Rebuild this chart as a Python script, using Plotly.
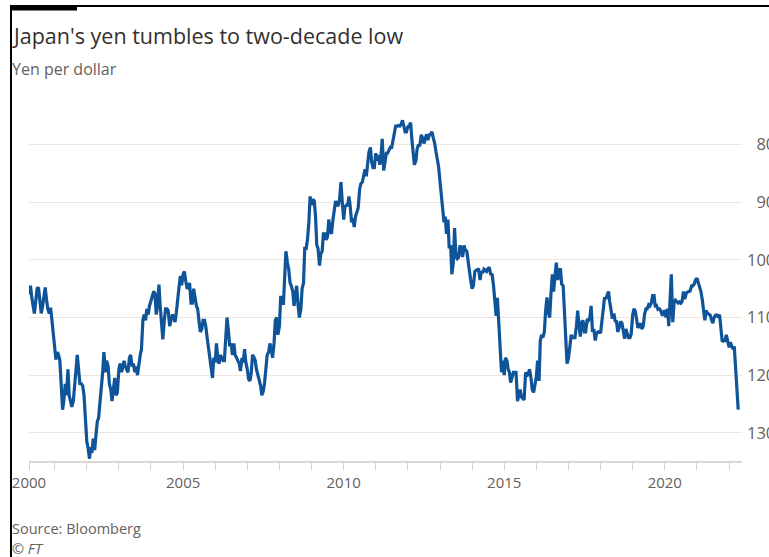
import pandas as pd
import plotly.graph_objects as go

title_text = "Japan's yen tumbles to two-decade low"
subtitle_text = "Yen per dollar"
source_text = "Source: Bloomberg"
credit_text = "© FT"

# Semi-monthly readings (1st and 15th of each month), yen per dollar
yen_2000 = [106.0, 104.5, 106.5, 108.5, 109.3, 107.0, 105.0, 104.8, 107.5, 109.3,
            108.2, 106.0, 104.8, 107.0, 108.5, 109.3, 108.3, 110.5, 112.5]
yen_2001 = [114.5, 117.3, 116.0, 116.5, 117.5, 121.0, 126.0, 124.5, 121.5, 123.5, 119.0, 123.5,
            124.5, 125.5, 124.5, 121.0, 119.0, 116.5, 119.5, 121.5, 121.5, 121.8, 123.5, 127.0]
yen_2002 = [131.5, 132.5, 134.5, 132.5, 133.5, 131.0, 133.0, 130.5, 128.0, 127.5, 124.5, 123.5,
            119.5, 116.0, 119.5, 117.5, 118.5, 121.5, 122.5, 124.5, 122.0, 120.5, 123.5, 123.0]
yen_2003 = [119.0, 118.0, 119.5, 118.5, 117.5, 118.5, 119.0, 119.5, 117.0, 116.5, 118.5, 118.0,
            119.5, 118.5, 120.0, 118.0, 116.5, 115.5, 110.5, 109.5, 110.5, 108.5, 109.5, 108.0]
yen_2004 = [107.0, 106.5, 105.5, 105.8, 109.5, 108.0, 104.3, 108.0, 110.5, 113.8, 110.5, 108.5,
            108.5, 108.8, 111.5, 110.3, 109.5, 109.8, 110.8, 109.2, 106.0, 104.8, 102.8, 104.4]
yen_2005 = [102.5, 102.0, 103.8, 105.0, 104.8, 104.0, 107.5, 107.5, 105.0, 106.5, 108.0, 108.5,
            110.5, 112.5, 112.0, 110.5, 110.5, 111.5, 113.5, 115.0, 116.5, 118.5, 120.5, 117.0]
yen_2006 = [117.8, 114.5, 117.5, 118.0, 116.5, 117.0, 117.5, 117.5, 113.0, 110.0, 112.5, 115.0,
            114.5, 116.5, 114.5, 116.5, 117.0, 117.5, 118.0, 119.3, 117.0, 117.8, 115.5, 117.8]
yen_2007 = [119.0, 120.7, 121.0, 119.5, 116.5, 116.8, 117.5, 119.0, 119.8, 120.5, 121.8, 123.5,
            122.8, 121.5, 118.5, 116.5, 116.0, 114.5, 115.5, 117.0, 114.5, 110.5, 110.0, 113.0]
yen_2008 = [111.5, 106.5, 106.5, 107.8, 103.0, 98.5, 100.5, 101.5, 104.0, 104.5, 105.5, 108.0,
            106.0, 104.5, 108.0, 110.0, 108.5, 105.0, 104.0, 98.0, 98.0, 96.5, 93.5, 89.0]
yen_2009 = [90.5, 89.5, 89.8, 92.5, 97.5, 98.0, 101.0, 99.0, 98.5, 95.5, 95.5, 96.5,
            96.0, 93.0, 95.0, 95.5, 93.0, 91.0, 89.8, 90.5, 90.5, 89.5, 86.5, 89.8]
yen_2010 = [93.0, 90.8, 90.5, 90.5, 89.0, 90.5, 93.5, 92.8, 94.3, 92.5, 91.5, 91.0,
            87.8, 86.8, 86.5, 85.5, 84.3, 85.5, 83.3, 81.3, 80.5, 83.0, 84.0, 84.0]
yen_2011 = [81.5, 82.8, 81.8, 83.5, 82.0, 79.0, 84.5, 83.3, 81.5, 81.5, 81.0, 80.5,
            80.5, 79.2, 77.5, 76.8, 76.8, 76.7, 76.8, 76.5, 75.8, 77.1, 77.8, 77.8]
yen_2012 = [76.9, 76.8, 76.2, 79.0, 81.2, 83.5, 82.8, 80.8, 80.0, 80.3, 78.3, 78.8,
            79.8, 79.0, 78.2, 79.2, 78.3, 78.2, 77.8, 78.8, 79.8, 81.2, 82.3, 83.8]
yen_2013 = [86.5, 88.8, 91.5, 93.5, 92.5, 95.5, 93.0, 98.0, 97.5, 102.5, 100.5, 94.5,
            99.5, 99.8, 99.5, 97.5, 98.0, 99.5, 97.5, 98.3, 98.5, 100.2, 102.5, 103.5]
yen_2014 = [105.0, 104.5, 102.0, 101.8, 101.8, 101.5, 103.5, 102.0, 102.3, 101.6, 101.8, 102.0,
            101.5, 101.3, 102.6, 102.4, 104.5, 107.2, 109.7, 106.6, 112.0, 116.5, 119.5, 117.5]
yen_2015 = [120.0, 117.0, 117.5, 119.0, 119.5, 121.3, 120.0, 119.5, 119.5, 119.5, 124.5, 123.4,
            122.5, 123.8, 124.0, 124.3, 119.5, 120.2, 119.8, 119.0, 120.5, 122.5, 123.0, 121.5]
yen_2016 = [120.3, 117.5, 121.0, 114.0, 113.0, 113.5, 112.5, 109.0, 106.5, 109.0, 110.0, 106.0,
            102.5, 105.5, 102.0, 100.5, 103.5, 102.0, 101.5, 104.2, 104.5, 109.5, 114.0, 118.0]
yen_2017 = [117.0, 114.5, 113.0, 113.5, 113.5, 113.5, 111.5, 108.8, 111.5, 113.3, 110.8, 110.5,
            112.5, 112.5, 110.3, 110.5, 110.0, 108.0, 112.5, 112.0, 114.0, 112.8, 112.5, 112.5]
yen_2018 = [112.7, 110.8, 109.2, 106.5, 106.8, 106.3, 105.5, 107.3, 109.3, 110.2, 109.3, 110.6,
            110.7, 112.5, 111.7, 110.7, 111.0, 112.0, 113.7, 112.0, 112.8, 113.5, 113.5, 112.8]
yen_2019 = [109.5, 108.5, 109.0, 110.5, 111.8, 111.5, 111.0, 112.0, 111.5, 109.5, 108.5, 108.5,
            107.8, 108.0, 107.5, 106.2, 106.2, 108.2, 108.0, 108.6, 108.5, 108.8, 109.5, 109.5]
yen_2020 = [108.7, 110.0, 108.5, 111.5, 107.8, 102.5, 110.8, 107.5, 107.0, 107.2, 107.5, 107.3,
            107.5, 107.2, 105.5, 106.8, 105.8, 105.6, 105.5, 105.4, 104.5, 104.5, 104.2, 103.5]
yen_2021 = [103.2, 103.8, 104.8, 105.5, 106.8, 109.0, 110.5, 108.8, 109.3, 109.4, 109.6, 110.4,
            111.0, 110.0, 109.6, 109.6, 110.0, 109.5, 111.5, 114.2, 114.0, 114.0, 113.0, 113.8]
yen_2022 = [115.2, 114.3, 115.0, 115.5, 115.0, 118.5, 122.8, 126.0]

yen = (yen_2000 + yen_2001 + yen_2002 + yen_2003 + yen_2004 + yen_2005 + yen_2006
       + yen_2007 + yen_2008 + yen_2009 + yen_2010 + yen_2011 + yen_2012 + yen_2013
       + yen_2014 + yen_2015 + yen_2016 + yen_2017 + yen_2018 + yen_2019 + yen_2020
       + yen_2021 + yen_2022)
dates = pd.date_range("2000-03-15", "2022-04-15", freq="SMS")
assert len(dates) == len(yen), (len(dates), len(yen))

x_range = ["2000-03-15", "2022-05-28"]
x_tickvals = ["2000-03-15", "2005-01-01", "2010-01-01", "2015-01-01", "2020-01-01"]
x_ticktext = ["2000", "2005", "2010", "2015", "2020"]
y_tickvals = [80, 90, 100, 110, 120, 130]
y_ticktext = ["\u200780", "\u200790", "100", "110", "120", "130"]
y_range = [134.9, 74]

W, H = 769, 557
ML, MR, MT, MB = 29, 27, 110, 96
PW, PH = W - ML - MR, H - MT - MB

def px(xp):
    return (xp - ML) / PW

def py(yp):
    return (H - MB - yp) / PH

FONT = "Open Sans, Liberation Sans, DejaVu Sans, sans-serif"
GREY = "#66605c"

fig = go.Figure()
fig.add_trace(go.Scatter(x=dates, y=yen, mode="lines",
                         line=dict(color="#0f5499", width=3.2),
                         hoverinfo="skip", showlegend=False))

fig.update_layout(
    width=W, height=H,
    margin=dict(l=ML, r=MR, t=MT, b=MB, autoexpand=False),
    paper_bgcolor="white", plot_bgcolor="white",
    font=dict(family=FONT, color=GREY, size=15),
    showlegend=False,
    xaxis=dict(range=x_range, type="date", tickmode="array",
               tickvals=x_tickvals, ticktext=x_ticktext,
               ticks="outside", ticklen=7, tickwidth=1, tickcolor="#d6d0ca",
               showline=True, linecolor="#ddd7d1", linewidth=2,
               showgrid=False, zeroline=False,
               tickfont=dict(size=15, color=GREY),
               minor=dict(dtick="M12", tick0="2001-01-01", ticks="outside",
                          ticklen=7, tickwidth=1, tickcolor="#d6d0ca", showgrid=False),
               fixedrange=True, automargin=False),
    yaxis=dict(range=y_range, side="right", tickmode="array",
               tickvals=y_tickvals, ticktext=y_ticktext,
               showgrid=True, gridcolor="#ece6e1", gridwidth=1,
               zeroline=False, showline=False, ticks="",
               ticklabelstandoff=4,
               tickfont=dict(size=16.5, color=GREY),
               fixedrange=True, automargin=False),
)

fig.add_annotation(text=title_text, xref="paper", yref="paper", x=px(10), y=py(35),
                   xanchor="left", yanchor="middle", showarrow=False,
                   font=dict(size=21.5, color="#33302e", family=FONT))
fig.add_annotation(text=subtitle_text, xref="paper", yref="paper", x=px(10), y=py(69),
                   xanchor="left", yanchor="middle", showarrow=False,
                   font=dict(size=16, color=GREY, family=FONT))
fig.add_annotation(text=source_text, xref="paper", yref="paper", x=px(10), y=py(528),
                   xanchor="left", yanchor="middle", showarrow=False,
                   font=dict(size=14.5, color=GREY, family=FONT))
fig.add_annotation(text="<i>" + credit_text + "</i>", xref="paper", yref="paper", x=px(10), y=py(548),
                   xanchor="left", yanchor="middle", showarrow=False,
                   font=dict(size=14.5, color=GREY, family=FONT))

# page frame: thin top and left rules, short thick bar at top-left
fig.add_shape(type="line", xref="paper", yref="paper", x0=px(11), x1=px(772),
              y0=py(6), y1=py(6), line=dict(color="black", width=2))
fig.add_shape(type="line", xref="paper", yref="paper", x0=px(11), x1=px(11),
              y0=py(5), y1=py(560), line=dict(color="black", width=2))
fig.add_shape(type="rect", xref="paper", yref="paper", x0=px(10), x1=px(77),
              y0=py(5), y1=py(10.5), line=dict(width=0), fillcolor="black")

fig.write_html("out.html",
               config={"displayModeBar": False, "staticPlot": True},
               post_script="document.body.style.margin='0';document.body.style.overflow='hidden';")
